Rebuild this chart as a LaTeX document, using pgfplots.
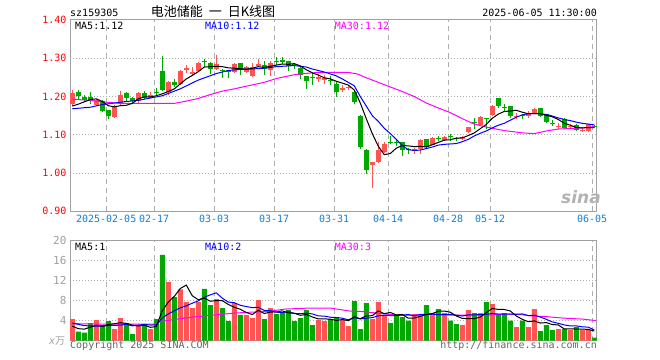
\documentclass[border=0pt]{standalone}
\usepackage{pgfplots}
\usepackage{pgfplotstable}
\pgfplotsset{compat=1.18}
\usepackage{fontspec}
\setmainfont{DejaVu Sans Mono}
\newfontfamily\cjk{Noto Sans CJK SC}
\newfontfamily\sinafont{DejaVu Sans}
\definecolor{cred}{RGB}{255,84,84}
\definecolor{cgreen}{RGB}{0,168,0}
\definecolor{bordergray}{RGB}{160,160,160}
\definecolor{gridgray}{RGB}{175,175,175}
\definecolor{dateblue}{RGB}{20,125,215}
\definecolor{cmag}{RGB}{255,0,255}
\definecolor{txtgray}{RGB}{100,100,100}
\definecolor{volgray}{RGB}{160,160,160}

% i open high low close volume
\pgfplotstableread{
i o h l c v
0 1.180 1.218 1.174 1.210 4.3
4 1.179 1.193 1.176 1.191 4.1
7 1.146 1.178 1.143 1.174 2.3
8 1.180 1.214 1.178 1.203 4.5
11 1.187 1.211 1.184 1.209 3.1
13 1.196 1.211 1.195 1.204 2.3
16 1.213 1.240 1.205 1.238 11.7
18 1.234 1.270 1.230 1.267 10.2
19 1.270 1.283 1.262 1.275 7.7
20 1.259 1.276 1.257 1.265 6.5
21 1.267 1.290 1.266 1.287 7.7
24 1.271 1.309 1.268 1.284 8.3
27 1.263 1.287 1.262 1.284 7.5
29 1.265 1.280 1.262 1.276 5.1
30 1.254 1.287 1.250 1.278 4.5
31 1.280 1.298 1.276 1.285 8.1
33 1.268 1.294 1.254 1.287 6.5
41 1.245 1.259 1.237 1.250 4.1
42 1.243 1.257 1.232 1.248 3.9
45 1.218 1.231 1.211 1.223 4.1
46 1.222 1.228 1.217 1.225 2.9
50 1.020 1.029 0.962 1.029 4.3
51 1.029 1.080 1.026 1.061 7.7
52 1.055 1.081 1.053 1.076 5.1
57 1.058 1.066 1.051 1.064 5.3
58 1.064 1.088 1.050 1.086 5.1
60 1.074 1.094 1.072 1.091 5.5
62 1.086 1.098 1.084 1.095 5.5
65 1.088 1.096 1.086 1.094 3.1
66 1.107 1.121 1.105 1.121 6.1
68 1.126 1.148 1.124 1.146 5.5
70 1.151 1.177 1.149 1.175 7.3
74 1.148 1.158 1.140 1.150 2.7
76 1.149 1.162 1.143 1.158 2.7
77 1.156 1.170 1.154 1.167 6.3
81 1.120 1.131 1.115 1.122 2.3
83 1.120 1.127 1.115 1.122 2.1
85 1.111 1.117 1.107 1.113 2.1
86 1.109 1.128 1.107 1.127 2.1
}\redtab

\pgfplotstableread{
i o h l c v
1 1.213 1.216 1.193 1.201 1.8
2 1.200 1.203 1.185 1.191 1.6
3 1.200 1.211 1.180 1.189 3.5
5 1.189 1.192 1.159 1.162 3.1
6 1.164 1.166 1.140 1.149 3.9
9 1.209 1.211 1.186 1.197 3.5
10 1.197 1.200 1.184 1.188 1.3
12 1.210 1.215 1.193 1.196 3.1
14 1.213 1.221 1.202 1.211 4.3
15 1.266 1.305 1.215 1.217 17.1
17 1.238 1.245 1.224 1.231 8.7
22 1.292 1.298 1.277 1.290 10.3
23 1.287 1.290 1.259 1.271 7.1
25 1.270 1.272 1.248 1.266 6.5
26 1.268 1.270 1.249 1.263 3.9
28 1.287 1.288 1.257 1.268 5.1
32 1.282 1.292 1.257 1.271 4.3
34 1.293 1.303 1.283 1.290 5.3
35 1.295 1.304 1.285 1.291 5.5
36 1.292 1.294 1.266 1.281 6.1
37 1.286 1.288 1.272 1.282 3.9
38 1.275 1.276 1.246 1.257 4.5
39 1.254 1.254 1.220 1.241 6.1
40 1.251 1.261 1.231 1.249 3.1
43 1.243 1.254 1.231 1.240 4.3
44 1.234 1.237 1.200 1.213 4.7
47 1.213 1.215 1.180 1.186 7.9
48 1.148 1.151 1.064 1.068 2.3
49 1.061 1.063 0.998 1.008 7.5
53 1.082 1.096 1.076 1.080 3.5
54 1.081 1.088 1.070 1.079 5.1
55 1.080 1.080 1.044 1.061 4.7
56 1.062 1.066 1.050 1.060 4.0
59 1.088 1.090 1.066 1.068 7.1
61 1.091 1.096 1.084 1.089 6.3
63 1.096 1.102 1.085 1.093 4.0
64 1.091 1.095 1.084 1.088 3.3
67 1.133 1.143 1.114 1.131 5.5
69 1.143 1.144 1.116 1.141 7.7
71 1.196 1.196 1.171 1.175 5.1
72 1.172 1.181 1.161 1.170 5.5
73 1.174 1.175 1.144 1.149 4.0
75 1.152 1.154 1.140 1.150 4.0
78 1.169 1.170 1.147 1.149 1.9
79 1.153 1.154 1.131 1.133 3.1
80 1.131 1.138 1.123 1.129 2.1
82 1.142 1.143 1.116 1.118 2.3
84 1.125 1.127 1.110 1.113 2.7
87 1.124 1.126 1.117 1.121 0.6
}\greentab

\pgfplotsset{
  chartbase/.style={
    scale only axis, width=527bp, anchor=south west,
    xmin=-0.38, xmax=87.45,
    axis line style={draw=bordergray, line width=1bp},
    major tick length=0pt,
    xtick={5.65,13.65,23.65,33.65,43.65,52.65,62.65,69.65,86.65},
    xmajorgrids, ymajorgrids,
    x grid style={draw=gridgray, dash pattern=on 5bp off 4bp, line width=1bp},
    y grid style={draw=gridgray, dash pattern=on 1.2bp off 1.8bp, line width=1bp},
    tick label style={font=\fontsize{10bp}{12bp}\selectfont},
    /pgf/number format/assume math mode=true,
  },
  malin/.style={line width=1bp, mark=none, sharp plot},
}

\begin{document}
\begin{tikzpicture}
\path[use as bounding box] (0bp,0bp) rectangle (660bp,360bp);

% ---------------- price panel ----------------
\begin{axis}[chartbase,
  at={(70bp,148.7bp)}, height=191.3bp,
  ymin=0.9, ymax=1.4,
  ytick={0.9,1.0,1.1,1.2,1.3,1.4},
  yticklabels={0.90,1.00,1.10,1.20,1.30,1.40},
  yticklabel style={text=red},
  xticklabels={2025-02-05,02-17,03-03,03-17,03-31,04-14,04-28,05-12,06-05},
  xticklabel style={text=dateblue},
]
% wicks
\addplot[draw=none, forget plot, error bars/.cd, y dir=plus, y explicit, error mark=none,
  error bar style={draw=cred, line width=1bp}]
  table[x=i, y=l, y error plus expr={\thisrow{h}-\thisrow{l}}] {\redtab};
\addplot[draw=none, forget plot, error bars/.cd, y dir=plus, y explicit, error mark=none,
  error bar style={draw=cgreen, line width=1bp}]
  table[x=i, y=l, y error plus expr={\thisrow{h}-\thisrow{l}}] {\greentab};
% bodies
\addplot[draw=none, forget plot, error bars/.cd, y dir=plus, y explicit, error mark=none,
  error bar style={draw=cred, line width=4.6bp}]
  table[x=i, y=o, y error plus expr={\thisrow{c}-\thisrow{o}}] {\redtab};
\addplot[draw=none, forget plot, error bars/.cd, y dir=plus, y explicit, error mark=none,
  error bar style={draw=cgreen, line width=4.6bp}]
  table[x=i, y=c, y error plus expr={\thisrow{o}-\thisrow{c}}] {\greentab};
% MA30
\addplot[malin, cmag] coordinates {(0,1.193)(3,1.190)(5,1.186)(8,1.182)(12,1.182)(17,1.182)(19,1.188)(21,1.195)(23,1.205)(25,1.214)(27,1.220)(29,1.227)(32,1.237)(34,1.247)(37,1.257)(40,1.262)(43,1.263)(46,1.263)(47.5,1.259)(49,1.249)(51,1.237)(53,1.225)(55,1.213)(57,1.200)(59,1.183)(61,1.170)(63,1.158)(65,1.142)(67,1.128)(69,1.120)(72,1.111)(75,1.105)(77,1.103)(79,1.110)(81,1.115)(84,1.117)(86,1.119)(87,1.122)};
% MA10
\addplot[malin, blue] coordinates {(0,1.168)(3,1.172)(5,1.179)(7,1.183)(9,1.187)(11,1.190)(13,1.196)(15,1.202)(16,1.208)(18,1.220)(21,1.243)(24,1.260)(26,1.268)(28,1.271)(30,1.272)(32,1.274)(34,1.278)(37,1.281)(39,1.277)(40,1.272)(42,1.264)(44,1.254)(45,1.246)(47,1.228)(48,1.200)(49,1.175)(50,1.150)(51,1.135)(52,1.117)(53,1.103)(54,1.088)(55,1.072)(56,1.061)(57,1.059)(58,1.060)(59,1.064)(60,1.068)(61,1.073)(62,1.075)(63,1.076)(64,1.077)(65,1.082)(66,1.088)(67,1.097)(68,1.104)(69,1.110)(70,1.118)(71,1.125)(72,1.130)(73,1.138)(74,1.146)(75,1.152)(76,1.155)(77,1.155)(78,1.155)(79,1.153)(80,1.149)(81,1.144)(82,1.140)(83,1.137)(84,1.133)(85,1.130)(86,1.128)(87,1.126)};
% MA5
\addplot[malin, black] coordinates {(0,1.175)(1,1.180)(2,1.186)(3,1.192)(4,1.194)(5,1.187)(6,1.176)(7,1.173)(8,1.176)(9,1.177)(10,1.182)(11,1.194)(12,1.199)(13,1.199)(14,1.202)(15,1.207)(16,1.213)(17,1.220)(18,1.233)(19,1.246)(20,1.255)(21,1.265)(22,1.277)(23,1.278)(24,1.279)(25,1.278)(26,1.275)(27,1.274)(28,1.273)(29,1.271)(30,1.274)(31,1.278)(32,1.276)(33,1.279)(34,1.282)(35,1.285)(36,1.284)(37,1.286)(38,1.280)(39,1.270)(40,1.262)(41,1.256)(42,1.249)(43,1.246)(44,1.240)(45,1.235)(46,1.230)(47,1.217)(48,1.183)(49,1.142)(50,1.103)(51,1.070)(52,1.048)(53,1.051)(54,1.065)(55,1.072)(56,1.071)(57,1.069)(58,1.070)(59,1.068)(60,1.074)(61,1.080)(62,1.086)(63,1.087)(64,1.091)(65,1.092)(66,1.098)(67,1.105)(68,1.116)(69,1.127)(70,1.143)(71,1.154)(72,1.161)(73,1.162)(74,1.164)(75,1.159)(76,1.155)(77,1.155)(78,1.155)(79,1.151)(80,1.147)(81,1.140)(82,1.130)(83,1.125)(84,1.119)(85,1.118)(86,1.119)(87,1.119)};
\end{axis}

% ---------------- volume panel ----------------
\begin{axis}[chartbase,
  at={(70bp,19.3bp)}, height=100.4bp,
  ymin=0, ymax=20,
  ytick={4,8,12,16,20},
  yticklabels={4,8,12,16,20},
  yticklabel style={text=volgray, font=\fontsize{11bp}{12bp}\selectfont},
  xticklabels={},
]
\addplot[ybar, bar width=5bp, bar shift=0pt, fill=cred, draw=none, forget plot]
  table[x=i, y=v] {\redtab};
\addplot[ybar, bar width=5bp, bar shift=0pt, fill=cgreen, draw=none, forget plot]
  table[x=i, y=v] {\greentab};
% MA30
\addplot[malin, cmag] coordinates {(0,3.4)(5,3.3)(10,3.3)(13.8,3.3)(14.6,3.8)(16.8,4.2)(20,4.7)(23.5,5.1)(27,5.5)(30,5.7)(32.6,5.8)(35.4,6.3)(39.6,6.5)(43,6.5)(45.2,6.1)(46.3,5.9)(48.5,5.8)(50.7,5.5)(54,5.1)(56.8,5.1)(59.6,5.3)(62.4,5.1)(66.3,5.1)(69.6,5.1)(71.8,5.3)(74,5.3)(76.8,4.9)(79,4.8)(81.8,4.5)(85.1,4.3)(87.3,4.0)};
% MA10
\addplot[malin, blue] coordinates {(0,3.5)(2,3.0)(4,2.9)(6,3.0)(8,3.1)(9,3.26)(10,2.96)(11,3.09)(12,3.24)(13,3.12)(14,3.14)(15,4.54)(16,5.32)(17,5.96)(18,6.53)(19,6.95)(20,7.47)(21,7.93)(22,8.65)(23,9.13)(24,9.53)(25,8.47)(26,7.69)(27,7.57)(28,7.06)(29,6.80)(30,6.60)(31,6.64)(32,6.04)(33,5.98)(34,5.68)(35,5.58)(36,5.80)(37,5.44)(38,5.38)(39,5.48)(40,5.34)(41,4.94)(42,4.90)(43,4.68)(44,4.62)(45,4.48)(46,4.16)(47,4.56)(48,4.34)(49,4.48)(50,4.60)(51,4.96)(52,5.08)(53,5.00)(54,5.04)(55,5.10)(56,5.21)(57,4.95)(58,5.23)(59,5.19)(60,5.31)(61,5.17)(62,5.21)(63,5.26)(64,5.08)(65,4.92)(66,5.13)(67,5.15)(68,5.19)(69,5.25)(70,5.43)(71,5.31)(72,5.31)(73,5.31)(74,5.25)(75,5.34)(76,5.00)(77,5.08)(78,4.72)(79,4.26)(80,3.74)(81,3.46)(82,3.14)(83,2.95)(84,2.95)(85,2.76)(86,2.70)(87,2.13)};
% MA5
\addplot[malin, black] coordinates {(0,2.9)(1,2.4)(2,2.3)(3,2.7)(4,3.06)(5,2.82)(6,3.24)(7,3.38)(8,3.58)(9,3.46)(10,3.10)(11,2.94)(12,3.10)(13,2.66)(14,2.82)(15,5.98)(16,7.70)(17,8.82)(18,10.40)(19,11.08)(20,8.96)(21,8.16)(22,8.48)(23,7.86)(24,7.98)(25,7.98)(26,7.22)(27,6.66)(28,6.26)(29,5.62)(30,5.22)(31,6.06)(32,5.42)(33,5.70)(34,5.74)(35,5.94)(36,5.54)(37,5.46)(38,5.06)(39,5.22)(40,4.74)(41,4.34)(42,4.34)(43,4.30)(44,4.02)(45,4.22)(46,3.98)(47,4.78)(48,4.38)(49,4.94)(50,4.98)(51,5.94)(52,5.38)(53,5.62)(54,5.14)(55,5.22)(56,4.48)(57,4.52)(58,4.84)(59,5.24)(60,5.40)(61,5.86)(62,5.90)(63,5.68)(64,4.92)(65,4.44)(66,4.40)(67,4.40)(68,4.70)(69,5.58)(70,6.42)(71,6.22)(72,6.22)(73,5.92)(74,4.92)(75,4.26)(76,3.78)(77,3.94)(78,3.52)(79,3.60)(80,3.22)(81,3.14)(82,2.34)(83,2.38)(84,2.30)(85,2.30)(86,2.26)(87,1.92)};
\end{axis}

% ---------------- texts ----------------
\begin{scope}[every node/.style={inner sep=0pt, font=\fontsize{10bp}{12bp}\selectfont}]
\node[anchor=base west] at (70bp,343.5bp) {sz159305};
\node[anchor=base] at (213bp,343.5bp) {\cjk\fontsize{13bp}{14bp}\selectfont 电池储能\hspace{6bp}一\hspace{6bp}日K线图};
\node[anchor=base east] at (597bp,343.5bp) {2025-06-05 11:30:00};
\node[anchor=base west] at (75bp,330.3bp) {MA5:1.12};
\node[anchor=base west, text=blue] at (205bp,330.3bp) {MA10:1.12};
\node[anchor=base west, text=cmag] at (334.7bp,330.3bp) {MA30:1.12};
\node[anchor=base west] at (75bp,109.3bp) {MA5:1};
\node[anchor=base west, text=blue] at (205bp,109.3bp) {MA10:2};
\node[anchor=base west, text=cmag] at (334.7bp,109.3bp) {MA30:3};
\node[anchor=base west, text=txtgray] at (70bp,11.3bp) {Copyright 2025 SINA.COM};
\node[anchor=base east, text=txtgray] at (597bp,11.3bp) {http://finance.sina.com.cn};
\node[anchor=base west, text=volgray] at (49bp,16bp) {\itshape x\cjk 万};
\node[anchor=center, text=black!30, font=\sinafont\bfseries\itshape\fontsize{17bp}{18bp}\selectfont] at (581bp,163bp) {sina};
\end{scope}
\end{tikzpicture}
\end{document}
